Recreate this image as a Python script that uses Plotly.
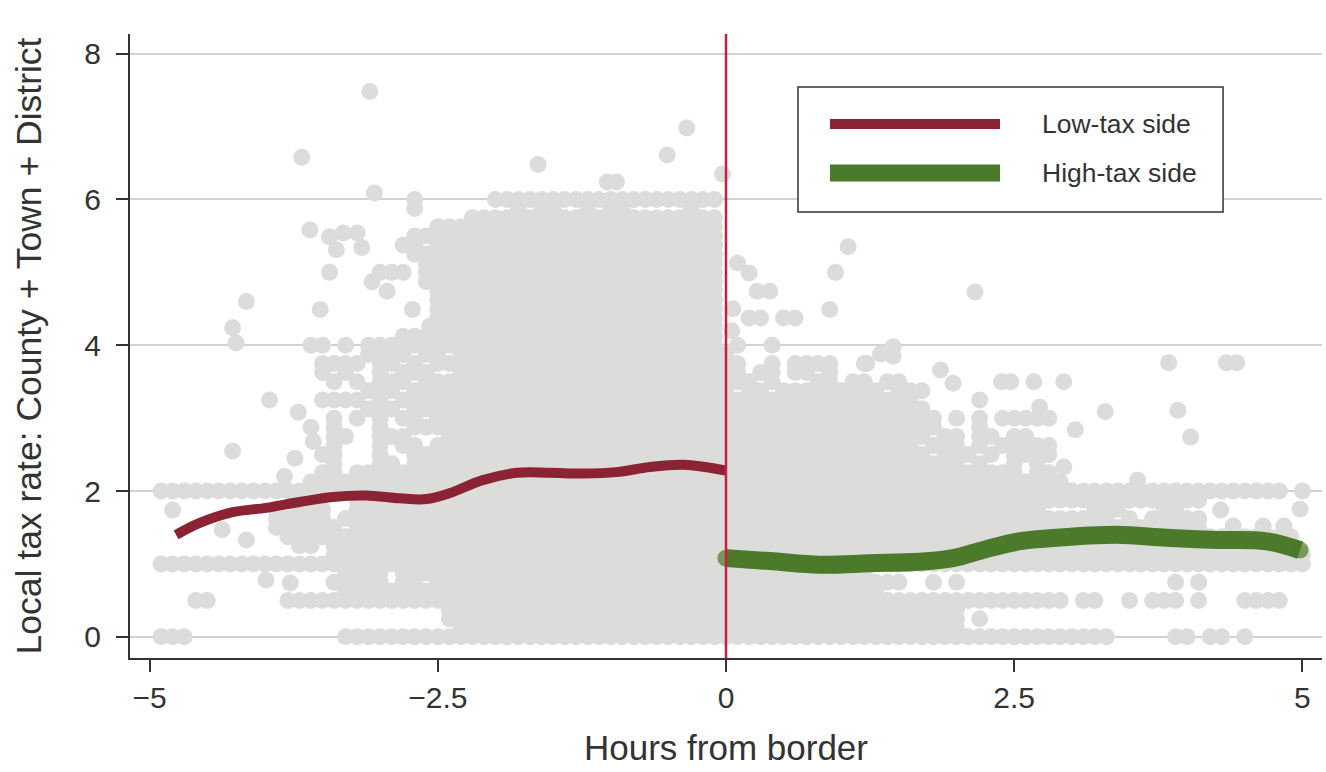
import plotly.graph_objects as go

# ---------------- data ----------------
# Column positions of the cloud map (hours from border), 0.1 h apart
cloud_x = [round(-5.0 + 0.1 * i, 1) for i in range(101)]

# Tax-rate level of each map row
cloud_levels = [6.0, 5.875, 5.75, 5.625, 5.5, 5.375, 5.25, 5.125, 5.0, 4.875,
                4.75, 4.625, 4.5, 4.375, 4.25, 4.125, 4.0, 3.875, 3.75, 3.625,
                3.5, 3.375, 3.25, 3.125, 3.0, 2.875, 2.75, 2.625, 2.5, 2.375,
                2.25, 2.125, 2.0, 1.875, 1.75, 1.625, 1.5, 1.375, 1.25, 1.125,
                1.0, 0.875, 0.75, 0.625, 0.5, 0.375, 0.25, 0.125, 0.0]

# One row per level; '#' = observation, '.' = none; groups of 10 columns split by '|'
# E = empty group, F = full group
cloud_rows = [
    "E|E|...#......|F|F|E|E|E|E|E|.",                                     # 6.000
    "E|E|...#......|..#.##..#.|##.....#..|E|E|E|E|E|.",                   # 5.875
    "E|E|........##|F|F|E|E|E|E|E|.",                                     # 5.750
    "E|E|.....#####|F|F|E|E|E|E|E|.",                                     # 5.625
    "E|E|...#######|F|F|E|E|E|E|E|.",                                     # 5.500
    "E|E|..##.#####|F|F|E|E|E|E|E|.",                                     # 5.375
    "E|E|...#######|F|F|E|E|E|E|E|.",                                     # 5.250
    "E|E|....######|F|F|E|E|E|E|E|.",                                     # 5.125
    "E|E|###.######|F|F|E|E|E|E|E|.",                                     # 5.000
    "E|E|....######|F|F|E|E|E|E|E|.",                                     # 4.875
    "E|E|.....#####|F|F|E|E|E|E|E|.",                                     # 4.750
    "E|E|.....#####|F|F|E|E|E|E|E|.",                                     # 4.625
    "E|E|.....#####|F|F|E|E|E|E|E|.",                                     # 4.500
    "E|E|.....#####|F|F|..##.##...|E|E|E|E|.",                            # 4.375
    "E|E|.....#####|F|F|E|E|E|E|E|.",                                     # 4.250
    "E|E|..########|F|F|E|E|E|E|E|.",                                     # 4.125
    "E|....##.#.#|F|F|F|.#..#.....|E|E|E|E|.",                            # 4.000
    "E|.........#|###.##.###|F|F|#.........|E|E|E|E|.",                   # 3.875
    "E|.....####.|##.#.#####|F|F|##..#.####|..#.......|E|E|E|.",          # 3.750
    "E|.....#.#..|#.###..###|F|F|##.##.##.#|E|E|E|E|.",                   # 3.625
    "E|......#.#.|###.######|F|F|###.#...##|.##.##....|E|E|E|.",          # 3.500
    "E|.........#|##.#######|F|F|#.##.#####|####.###..|E|E|E|.",          # 3.375
    "E|.....####.|#.########|F|F|F|#######...|E|E|E|.",                   # 3.250
    "E|.........#|##.#######|F|F|F|########..|E|E|E|.",                   # 3.125
    "E|......#.#.|#.##.#####|F|F|F|#########.|#.#.#####.|E|E|.",          # 3.000
    "E|....#.#...|#..#######|F|F|F|#########.|..#.......|E|E|.",          # 2.875
    "E|......##..|###...####|F|F|F|########.#|#.##.##...|E|E|.",          # 2.750
    "E|......#...|#.##.#####|F|F|F|#######.##|#.#.#####.|E|E|.",          # 2.625
    "E|.....##...|#..#######|F|F|F|########.#|##.#.####.|E|E|.",          # 2.500
    "E|......#...|##.#######|F|F|F|F|#.#..#.#..|E|E|.",                   # 2.375
    "E|.....##.##|F|F|F|F|F|######.##.|E|E|.",                            # 2.250
    "E|....######|F|F|F|F|F|F|E|E|.",                                     # 2.125
    ".#########|F|F|F|F|F|F|F|F|#########.|#",                            # 2.000
    "E|........##|F|F|F|F|F|F|F|##........|.",                            # 1.875
    "E|.#.###..##|F|F|F|F|F|########..|..###...##|E|.",                   # 1.750
    "E|.#####.###|F|F|F|F|F|F|####.#.###|##........|.",                   # 1.625
    "E|.######.##|F|F|F|F|F|F|F|##........|.",                            # 1.500
    "E|..########|F|F|F|F|F|F|F|F|.",                                     # 1.375
    "E|...##.####|F|F|F|F|F|F|F|F|.",                                     # 1.250
    "E|......####|F|F|F|F|F|F|F|F|#",                                     # 1.125
    ".#########|F|F|F|F|F|F|F|F|F|#",                                     # 1.000
    "E|.......###|#.########|F|F|F|###.......|E|E|E|.",                   # 0.875
    "E|......####|#.##.#####|F|F|F|######..#.|#.........|.........#|.#........|.",  # 0.750
    "E|.......###|F|F|F|F|####......|E|E|E|.",                            # 0.625
    "....##....|..########|F|F|F|F|F|F|.##..#.###|.#...####.|.",          # 0.500
    "E|E|......####|F|F|F|F|#.........|E|E|.",                            # 0.375
    "E|E|......####|F|F|F|F|#.#.......|E|E|.",                            # 0.250
    "E|E|.......###|F|F|F|F|#.........|E|E|.",                            # 0.125
    ".###......|.......###|F|F|F|F|F|F|####.....#|#.##.#....|.",          # 0.000
]

# Isolated observations read individually
extra_x = [-3.09, -3.68, -3.05, -1.63, -1.03, -0.95, -0.51, -0.34, -0.03,
           -3.61, -3.44, -3.32, -3.20, -3.38, -3.16, -3.44, -3.07, -2.94,
           -4.16, -3.52, -2.72, -4.28, -2.57, -4.25,
           -3.96, -3.71, -4.28, -3.58, -3.74, -3.83,
           -4.80, -4.37, -4.16, -3.99, -3.78,
           1.06, 0.95, 0.90, 2.16, 0.10, 0.20, 0.27, 0.38, 0.06, 0.05,
           1.45, 1.45, 1.34, 1.22, 1.86, 1.97, 2.39, 2.47, 2.67, 2.93,
           2.20, 3.84, 4.34, 4.43, 3.29, 3.92, 2.72, 3.03, 4.03, 2.93,
           3.57, 4.98, 4.29, 4.40, 4.66, 4.84]
extra_y = [7.48, 6.58, 6.09, 6.48, 6.24, 6.24, 6.61, 6.98, 6.35,
           5.58, 5.49, 5.54, 5.54, 5.31, 5.34, 5.00, 4.87, 4.74,
           4.60, 4.49, 4.49, 4.24, 4.26, 4.03,
           3.25, 3.08, 2.55, 2.68, 2.45, 2.20,
           1.74, 1.47, 1.33, 0.78, 0.74,
           5.35, 5.00, 4.49, 4.73, 5.13, 4.99, 4.74, 4.74, 4.50, 4.20,
           3.98, 3.85, 3.88, 3.75, 3.66, 3.48, 3.50, 3.50, 3.50, 3.50,
           3.25, 3.76, 3.76, 3.76, 3.09, 3.11, 3.15, 2.84, 2.74, 2.33,
           2.15, 1.75, 1.74, 1.52, 1.52, 1.52]

# Local smooths
low_x = [-4.77, -4.57, -4.28, -3.99, -3.70, -3.41, -3.12, -2.83, -2.60, -2.40,
         -2.11, -1.81, -1.53, -1.24, -0.95, -0.66, -0.37, -0.14, 0.0]
low_y = [1.40, 1.56, 1.71, 1.77, 1.85, 1.92, 1.94, 1.90, 1.89, 1.97,
         2.15, 2.25, 2.25, 2.24, 2.26, 2.33, 2.36, 2.32, 2.28]
high_x = [0.0, 0.38, 0.82, 1.25, 1.68, 1.97, 2.25, 2.54, 2.96, 3.39, 3.82, 4.26, 4.69, 4.98]
high_y = [1.08, 1.04, 0.99, 1.01, 1.03, 1.08, 1.20, 1.31, 1.37, 1.40, 1.36, 1.33, 1.31, 1.19]

x_ticks = [-5, -2.5, 0, 2.5, 5]
x_ticktext = ["\u22125", "\u22122.5", "0", "2.5", "5"]
y_ticks = [0, 2, 4, 6, 8]
y_ticktext = ["0", "2", "4", "6", "8"]
series_names = ["Low-tax side", "High-tax side"]

# ---------------- build points from the map ----------------
pts_x, pts_y = [], []
for lvl, row in zip(cloud_levels, cloud_rows):
    groups = row.split("|")
    for gi, g in enumerate(groups):
        w = 10 if gi < 10 else 1
        g = {"E": "." * w, "F": "#" * w}.get(g, g)
        g = (g + "." * w)[:w]
        for k, ch in enumerate(g):
            if ch == "#":
                pts_x.append(cloud_x[gi * 10 + k])
                pts_y.append(lvl)
pts_x += extra_x
pts_y += extra_y

GRAY = "#dcdcda"
RED = "#8c2334"
GREEN = "#4a7a2a"
BORDER = "#c8203c"
INK = "#333333"
FONT = "Liberation Sans, Arial, Helvetica, sans-serif"

fig = go.Figure()
fig.add_trace(go.Scatter(x=pts_x, y=pts_y, mode="markers",
                         marker=dict(size=17, color=GRAY, line=dict(width=0)),
                         hoverinfo="skip", showlegend=False))
fig.add_trace(go.Scatter(x=low_x, y=low_y, mode="lines", name=series_names[0],
                         line=dict(color=RED, width=10, shape="spline"), showlegend=False))
gsize = [17 if i in (0, len(high_x) - 1) else 0 for i in range(len(high_x))]
fig.add_trace(go.Scatter(x=high_x, y=high_y, mode="lines+markers", name=series_names[1],
                         line=dict(color=GREEN, width=18, shape="spline"),
                         marker=dict(size=gsize, color=GREEN, line=dict(width=0)),
                         showlegend=False))

# vertical border line at x = 0
fig.add_shape(type="line", xref="x", yref="paper", x0=0, x1=0, y0=0, y1=1,
              line=dict(color=BORDER, width=2.5), layer="above")

# legend box drawn in paper coordinates
fig.add_shape(type="rect", xref="paper", yref="paper", x0=0.5604, x1=0.917, y0=0.7147, y1=0.915,
              line=dict(color=INK, width=1.5), fillcolor="white", layer="above")
fig.add_shape(type="line", xref="paper", yref="paper", x0=0.5872, x1=0.7299, y0=0.8558, y1=0.8558,
              line=dict(color=RED, width=10), layer="above")
fig.add_shape(type="line", xref="paper", yref="paper", x0=0.5872, x1=0.7299, y0=0.7772, y1=0.7772,
              line=dict(color=GREEN, width=17), layer="above")
for name, yy in zip(series_names, [0.8558, 0.7772]):
    fig.add_annotation(text=name, xref="paper", yref="paper", x=0.7634, y=yy,
                       xanchor="left", yanchor="middle", showarrow=False,
                       font=dict(family=FONT, size=26.5, color=INK))

fig.update_layout(
    width=1326, height=772,
    margin=dict(l=130, r=4, t=34, b=114),
    paper_bgcolor="white", plot_bgcolor="white",
    font=dict(family=FONT, color=INK),
    showlegend=False,
)
fig.update_xaxes(range=[-5.17, 5.17], tickvals=x_ticks, ticktext=x_ticktext,
                 showgrid=False, zeroline=False, showline=True, linecolor=INK, linewidth=2,
                 ticks="outside", ticklen=12, tickwidth=2, tickcolor=INK,
                 tickfont=dict(family=FONT, size=30, color=INK),
                 title=dict(text="Hours from border", font=dict(family=FONT, size=35, color=INK), standoff=22))
fig.update_yaxes(range=[-0.29, 8.27], tickvals=y_ticks, ticktext=y_ticktext,
                 showgrid=True, gridcolor="#d2d2d2", gridwidth=1.5,
                 zeroline=False, showline=True, linecolor=INK, linewidth=2,
                 ticks="outside", ticklen=12, tickwidth=2, tickcolor=INK,
                 ticklabelstandoff=9,
                 tickfont=dict(family=FONT, size=30, color=INK),
                 title=dict(text="Local tax rate: County + Town + District",
                            font=dict(family=FONT, size=35.5, color=INK), standoff=32))

fig.write_html("out.html")
